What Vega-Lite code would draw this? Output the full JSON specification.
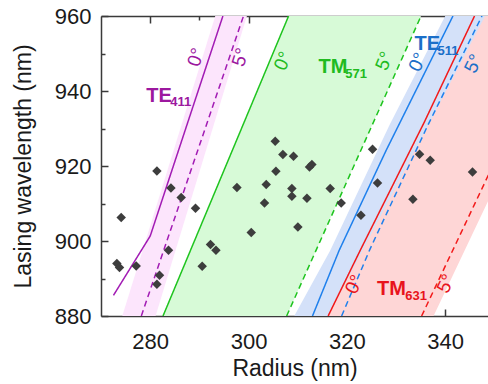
{
  "$schema": "https://vega.github.io/schema/vega-lite/v6.json",
  "width": 387,
  "height": 300,
  "autosize": {"type": "none"},
  "padding": {"left": 101, "top": 16, "right": 0, "bottom": 68},
  "config": {"view": {"stroke": null}, "font": "Liberation Sans"},
  "resolve": {"axis": {"x": "independent", "y": "independent"}},
  "datasets": {
    "points": [
      {"r": 281.37, "wl": 918.67}, {"r": 284.22, "wl": 914.13}, {"r": 286.31, "wl": 911.57},
      {"r": 289.22, "wl": 908.72}, {"r": 274.11, "wl": 906.24}, {"r": 273.23, "wl": 893.97},
      {"r": 273.76, "wl": 892.91}, {"r": 277.16, "wl": 893.33}, {"r": 283.73, "wl": 897.52},
      {"r": 281.9, "wl": 890.85}, {"r": 281.37, "wl": 888.45}, {"r": 292.27, "wl": 899.04},
      {"r": 293.37, "wl": 897.52}, {"r": 290.58, "wl": 893.25}, {"r": 305.43, "wl": 926.59},
      {"r": 306.99, "wl": 923.04}, {"r": 309.15, "wl": 922.59}, {"r": 312.4, "wl": 919.73},
      {"r": 312.89, "wl": 920.37}, {"r": 305.57, "wl": 918.59}, {"r": 297.64, "wl": 914.24},
      {"r": 303.6, "wl": 915.04}, {"r": 308.82, "wl": 913.97}, {"r": 308.82, "wl": 911.92},
      {"r": 303.25, "wl": 910.13}, {"r": 311.88, "wl": 911.39}, {"r": 316.61, "wl": 913.97},
      {"r": 310.04, "wl": 903.73}, {"r": 300.55, "wl": 902.24}, {"r": 325.22, "wl": 924.45},
      {"r": 318.85, "wl": 910.13}, {"r": 326.23, "wl": 915.47}, {"r": 322.86, "wl": 906.85},
      {"r": 334.78, "wl": 923.12}, {"r": 336.95, "wl": 921.52}, {"r": 345.55, "wl": 918.4},
      {"r": 333.43, "wl": 911.12}
    ],
    "bands": [
      {"mode": "TE411", "wl": 880, "lo": 274.33, "hi": 281.1},
      {"mode": "TE411", "wl": 960, "lo": 293.24, "hi": 299.67},
      {"mode": "TM571", "wl": 880, "lo": 282.61, "hi": 307.75},
      {"mode": "TM571", "wl": 960, "lo": 308.15, "hi": 335.08},
      {"mode": "TE511", "wl": 880, "lo": 309.3, "hi": 316.2},
      {"mode": "TE511", "wl": 897.5, "lo": 316.61, "hi": 323.2},
      {"mode": "TE511", "wl": 931, "lo": 328.7, "hi": 336.6},
      {"mode": "TE511", "wl": 960, "lo": 340.0, "hi": 348.1},
      {"mode": "TM631", "wl": 880, "lo": 316.19, "hi": 337.63},
      {"mode": "TM631", "wl": 897.52, "lo": 322.72, "hi": 343.97},
      {"mode": "TM631", "wl": 931.65, "lo": 335.73, "hi": 356.33},
      {"mode": "TM631", "wl": 960, "lo": 345.96, "hi": 366.6}
    ],
    "lines": [
      {"mode": "TE411", "ang": "0°", "wl": 885.52, "r": 272.54},
      {"mode": "TE411", "ang": "0°", "wl": 901.33, "r": 280.01},
      {"mode": "TE411", "ang": "0°", "wl": 960, "r": 294.79},
      {"mode": "TE411", "ang": "5°", "wl": 880, "r": 278.2},
      {"mode": "TE411", "ang": "5°", "wl": 960, "r": 298.98},
      {"mode": "TM571", "ang": "0°", "wl": 880, "r": 282.61},
      {"mode": "TM571", "ang": "0°", "wl": 960, "r": 308.15},
      {"mode": "TM571", "ang": "5°", "wl": 880, "r": 307.75},
      {"mode": "TM571", "ang": "5°", "wl": 960, "r": 335.08},
      {"mode": "TE511", "ang": "0°", "wl": 880, "r": 313.01},
      {"mode": "TE511", "ang": "0°", "wl": 897.52, "r": 318.44},
      {"mode": "TE511", "ang": "0°", "wl": 924.2, "r": 328.0},
      {"mode": "TE511", "ang": "0°", "wl": 960, "r": 341.57},
      {"mode": "TE511", "ang": "5°", "wl": 880, "r": 318.93},
      {"mode": "TE511", "ang": "5°", "wl": 897.97, "r": 324.75},
      {"mode": "TE511", "ang": "5°", "wl": 931.1, "r": 336.55},
      {"mode": "TE511", "ang": "5°", "wl": 960, "r": 347.47},
      {"mode": "TM631", "ang": "0°", "wl": 880, "r": 316.19},
      {"mode": "TM631", "ang": "0°", "wl": 897.52, "r": 322.72},
      {"mode": "TM631", "ang": "0°", "wl": 931.65, "r": 335.73},
      {"mode": "TM631", "ang": "0°", "wl": 960, "r": 345.96},
      {"mode": "TM631", "ang": "5°", "wl": 880, "r": 335.2},
      {"mode": "TM631", "ang": "5°", "wl": 960, "r": 364.1}
    ],
    "labels": [
      {"mode": "TE411", "kind": "main", "text": "TE", "r": 279.19, "wl": 936.99},
      {"mode": "TE411", "kind": "sub", "text": "411", "r": 284.07, "wl": 935.92},
      {"mode": "TM571", "kind": "main", "text": "TM", "r": 314.24, "wl": 944.8},
      {"mode": "TM571", "kind": "sub", "text": "571", "r": 319.66, "wl": 943.57},
      {"mode": "TE511", "kind": "main", "text": "TE", "r": 333.76, "wl": 951.04},
      {"mode": "TE511", "kind": "sub", "text": "511", "r": 338.44, "wl": 949.7},
      {"mode": "TM631", "kind": "main", "text": "TM", "r": 326.11, "wl": 885.52},
      {"mode": "TM631", "kind": "sub", "text": "631", "r": 331.87, "wl": 884.19}
    ],
    "degs": [
      {"mode": "TE411", "text": "0°", "r": 289.36, "wl": 948.99},
      {"mode": "TE411", "text": "5°", "r": 298.41, "wl": 949.0},
      {"mode": "TM571", "text": "0°", "r": 307.02, "wl": 947.97},
      {"mode": "TM571", "text": "5°", "r": 327.64, "wl": 947.97},
      {"mode": "TE511", "text": "0°", "r": 334.41, "wl": 947.7},
      {"mode": "TE511", "text": "5°", "r": 345.76, "wl": 947.25},
      {"mode": "TM631", "text": "0°", "r": 321.53, "wl": 888.4},
      {"mode": "TM631", "text": "5°", "r": 340.17, "wl": 888.64}
    ]
  },
  "layer": [
    {
      "data": {"name": "bands"},
      "transform": [{"filter": "datum.mode === 'TM631'"}],
      "mark": {"type": "area", "orient": "horizontal", "clip": true},
      "encoding": {
        "y": {"field": "wl", "type": "quantitative", "scale": {"domain": [880, 960], "nice": false, "zero": false},
          "axis": {"orient": "left", "values": [880, 900, 920, 940, 960],
            "tickSize": -7,
            "labelPadding": 17, "labelFontSize": 22, "labelColor": "#1a1a1a", "labelOverlap": false, "labelFlush": false,
            "title": "Lasing wavelength (nm)", "titleFontSize": 23, "titleFontWeight": "normal", "titleColor": "#1a1a1a", "titlePadding": 19,
            "domainColor": "#3a3a3a", "tickColor": "#3a3a3a", "domainWidth": 1.5, "tickWidth": 1.5, "grid": false}},
        "x": {"field": "lo", "type": "quantitative", "scale": {"domain": [270, 348.7], "nice": false, "zero": false},
          "axis": {"orient": "bottom", "values": [280, 300, 320, 340],
            "tickSize": -7,
            "labelPadding": 22, "labelFontSize": 22, "labelColor": "#1a1a1a", "labelOverlap": false, "labelFlush": false,
            "title": "Radius (nm)", "titleFontSize": 23, "titleFontWeight": "normal", "titleColor": "#1a1a1a", "titlePadding": 5,
            "domainColor": "#3a3a3a", "tickColor": "#3a3a3a", "domainWidth": 1.5, "tickWidth": 1.5, "grid": false}},
        "x2": {"field": "hi"},
        "fill": {"field": "mode", "type": "nominal", "legend": null,
          "scale": {"domain": ["TE411", "TM571", "TE511", "TM631"], "range": ["#fce5fc", "#d7fad7", "#d4e1f9", "#fed6d6"]}}
      }
    },
    {
      "data": {"name": "bands"},
      "transform": [{"filter": "datum.mode !== 'TM631'"}],
      "mark": {"type": "area", "orient": "horizontal", "clip": true},
      "encoding": {
        "y": {"field": "wl", "type": "quantitative",
          "axis": {"orient": "left", "values": [890, 910, 930, 950], "tickSize": -4, "labels": false, "title": null,
            "domain": false, "tickColor": "#3a3a3a", "tickWidth": 1.5, "grid": false}},
        "x": {"field": "lo", "type": "quantitative",
          "axis": {"orient": "bottom", "values": [290, 310, 330], "tickSize": -4, "labels": false, "title": null,
            "domain": false, "tickColor": "#3a3a3a", "tickWidth": 1.5, "grid": false}},
        "x2": {"field": "hi"},
        "fill": {"field": "mode", "type": "nominal", "legend": null}
      }
    },
    {
      "data": {"name": "lines"},
      "mark": {"type": "line", "strokeWidth": 1.5, "clip": true},
      "encoding": {
        "y": {"field": "wl", "type": "quantitative", "axis": null},
        "x": {"field": "r", "type": "quantitative",
          "axis": {"orient": "top", "values": [290, 310, 330], "tickSize": -4, "labels": false, "title": null,
            "domain": false, "tickColor": "#3a3a3a", "tickWidth": 1.5, "grid": false}},
        "order": {"field": "wl", "type": "quantitative"},
        "stroke": {"field": "mode", "type": "nominal", "legend": null,
          "scale": {"domain": ["TE411", "TM571", "TE511", "TM631"], "range": ["#a21cb4", "#1fc41f", "#1f80ec", "#f21a1a"]}},
        "strokeDash": {"field": "ang", "type": "nominal", "legend": null,
          "scale": {"domain": ["0°", "5°"], "range": [[1, 0], [6, 4]]}}
      }
    },
    {
      "data": {"name": "points"},
      "mark": {"type": "point", "shape": "diamond", "filled": true, "size": 90, "color": "#3d3d3d", "opacity": 1},
      "encoding": {
        "y": {"field": "wl", "type": "quantitative", "axis": null},
        "x": {"field": "r", "type": "quantitative",
          "axis": {"orient": "top", "values": [280, 300, 320, 340], "labels": false, "title": null,
            "tickSize": -7,
            "domainColor": "#3a3a3a", "tickColor": "#3a3a3a", "domainWidth": 1.5, "tickWidth": 1.5, "grid": false}}
      }
    },
    {
      "data": {"name": "labels"},
      "transform": [{"filter": "datum.kind === 'main'"}],
      "mark": {"type": "text", "align": "left", "baseline": "alphabetic", "fontSize": 20, "fontWeight": "bold"},
      "encoding": {
        "y": {"field": "wl", "type": "quantitative", "axis": null},
        "x": {"field": "r", "type": "quantitative", "axis": null},
        "text": {"field": "text"},
        "color": {"field": "mode", "type": "nominal", "legend": null,
          "scale": {"domain": ["TE411", "TM571", "TE511", "TM631"], "range": ["#9c189f", "#20bb20", "#1b6fc8", "#e8141c"]}}
      }
    },
    {
      "data": {"name": "labels"},
      "transform": [{"filter": "datum.kind === 'sub'"}],
      "mark": {"type": "text", "align": "left", "baseline": "alphabetic", "fontSize": 13, "fontWeight": "bold"},
      "encoding": {
        "y": {"field": "wl", "type": "quantitative", "axis": null},
        "x": {"field": "r", "type": "quantitative", "axis": null},
        "text": {"field": "text"},
        "color": {"field": "mode", "type": "nominal", "legend": null}
      }
    },
    {
      "data": {"name": "degs"},
      "transform": [{"filter": "datum.mode === 'TE411'"}],
      "mark": {"type": "text", "align": "center", "baseline": "middle", "fontSize": 19, "angle": 288},
      "encoding": {
        "y": {"field": "wl", "type": "quantitative", "axis": null},
        "x": {"field": "r", "type": "quantitative", "axis": null},
        "text": {"field": "text"},
        "color": {"field": "mode", "type": "nominal", "legend": null}
      }
    },
    {
      "data": {"name": "degs"},
      "transform": [{"filter": "datum.mode === 'TM571'"}],
      "mark": {"type": "text", "align": "center", "baseline": "middle", "fontSize": 19, "angle": 293},
      "encoding": {
        "y": {"field": "wl", "type": "quantitative", "axis": null},
        "x": {"field": "r", "type": "quantitative", "axis": null},
        "text": {"field": "text"},
        "color": {"field": "mode", "type": "nominal", "legend": null}
      }
    },
    {
      "data": {"name": "degs"},
      "transform": [{"filter": "datum.mode === 'TE511' || datum.mode === 'TM631'"}],
      "mark": {"type": "text", "align": "center", "baseline": "middle", "fontSize": 19, "angle": 296},
      "encoding": {
        "y": {"field": "wl", "type": "quantitative", "axis": null},
        "x": {"field": "r", "type": "quantitative", "axis": null},
        "text": {"field": "text"},
        "color": {"field": "mode", "type": "nominal", "legend": null}
      }
    }
  ]
}
